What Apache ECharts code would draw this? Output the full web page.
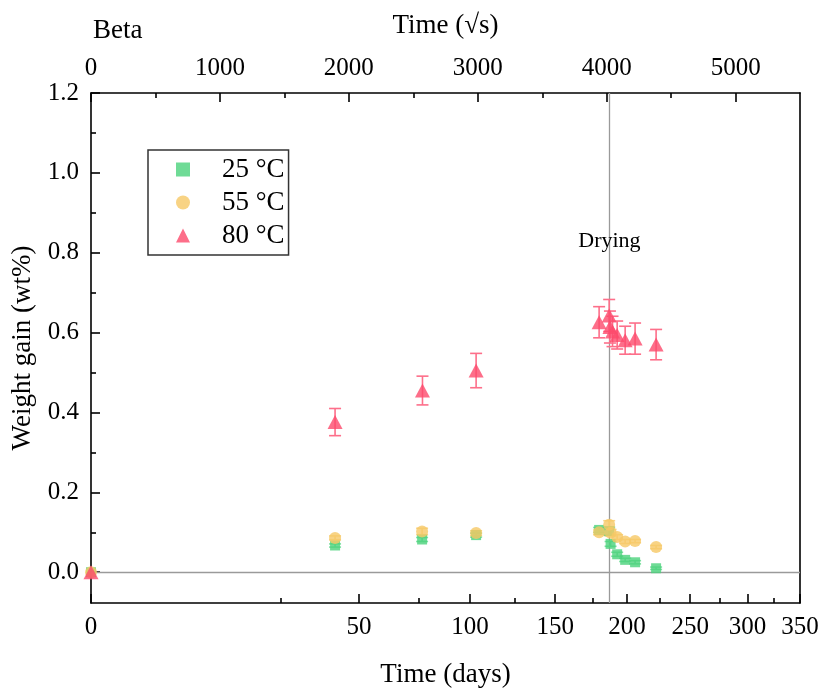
<!DOCTYPE html>
<html><head><meta charset="utf-8">
<script src="https://cdn.jsdelivr.net/npm/echarts@6/dist/echarts.min.js"></script>
<style>html,body{margin:0;padding:0;background:#fff}#c{width:822px;height:693px}</style>
</head><body><div id="c"></div>
<script>
// ---- data ----
const topTicks = [0, 1000, 2000, 3000, 4000, 5000];
const topMinorTicks = [500, 1500, 2500, 3500, 4500];
const dayTicks = [0, 50, 100, 150, 200, 250, 300, 350];
const dayMinorTicks = [25, 75, 125, 175, 225, 275, 325];
const yTicks = [0, 0.2, 0.4, 0.6, 0.8, 1.0, 1.2];
const yMinorTicks = [0.1, 0.3, 0.5, 0.7, 0.9, 1.1];
const seriesNames = ['25 °C', '55 °C', '80 °C'];

// x values in sqrt(s)
const x25 = [0, 1893, 2568, 2987, 3941, 4019, 4030, 4081, 4143, 4220, 4383];
const y25 = [0, 0.067, 0.082, 0.093, 0.106, 0.103, 0.071, 0.045, 0.031, 0.025, 0.010];
const e25 = [0, 0.004, 0.005, 0.005, 0.006, 0.010, 0.006, 0.005, 0.004, 0.004, 0.003];

const x55 = [0, 1893, 2568, 2987, 3941, 4019, 4030, 4081, 4143, 4220, 4383];
const y55 = [0, 0.086, 0.102, 0.098, 0.100, 0.119, 0.099, 0.088, 0.077, 0.078, 0.063];
const e55 = [0, 0.005, 0.008, 0.006, 0.006, 0.010, 0.008, 0.006, 0.005, 0.004, 0.004];

const x80 = [0, 1893, 2571, 2987, 3941, 4019, 4025, 4045, 4081, 4143, 4220, 4383];
const y80 = [0, 0.376, 0.455, 0.505, 0.626, 0.643, 0.614, 0.603, 0.594, 0.581, 0.585, 0.570];
const e80 = [0, 0.034, 0.036, 0.043, 0.039, 0.040, 0.040, 0.038, 0.035, 0.035, 0.039, 0.038];

const dryingX = 4021;
const dryingLabelY = 0.83;

// ---- chart ----
const FONT = "'Liberation Serif', 'Times New Roman', serif";
const colors = ['#4bd27c', '#f6c865', '#fd4a6b'];
const errColors = ['#7ee0a2', '#f8d68c', '#fd6f8a'];
const xMax = Math.sqrt(350 * 86400);
const yMin = -0.077, yMax = 1.2;
const toSqrtS = d => Math.sqrt(d * 86400);

function pairs(xs, ys) { return xs.map((x, i) => [x, ys[i]]); }
function errData(xs, ys, es) { return xs.map((x, i) => [x, ys[i] - es[i], ys[i] + es[i]]); }

function errSeries(idx, xs, ys, es) {
  return {
    type: 'custom', xAxisIndex: 0, yAxisIndex: 0, z: 2, silent: true,
    data: errData(xs, ys, es).filter(d => d[2] - d[1] > 0),
    renderItem: function (params, api) {
      const x = api.value(0);
      const lo = api.coord([x, api.value(1)]);
      const hi = api.coord([x, api.value(2)]);
      const w = 6;
      const st = { stroke: errColors[idx], lineWidth: 1.6 };
      return { type: 'group', children: [
        { type: 'line', shape: { x1: lo[0], y1: lo[1], x2: hi[0], y2: hi[1] }, style: st },
        { type: 'line', shape: { x1: lo[0] - w, y1: lo[1], x2: lo[0] + w, y2: lo[1] }, style: st },
        { type: 'line', shape: { x1: hi[0] - w, y1: hi[1], x2: hi[0] + w, y2: hi[1] }, style: st }
      ]};
    }
  };
}

const axisLineStyle = { color: '#000', width: 1.6 };
const labelStyle = { color: '#000', fontFamily: FONT, fontSize: 25 };
const nameStyle = { fontFamily: FONT, fontSize: 27, color: '#000' };

const option = {
  animation: false,
  backgroundColor: '#fff',
  textStyle: { fontFamily: FONT },
  grid: { left: 91, right: 22, top: 93, bottom: 84, containLabel: false },
  legend: {
    orient: 'vertical', left: 148, top: 150,
    data: seriesNames,
    borderColor: '#333', borderWidth: 1.5, borderRadius: 0,
    padding: [6, 4, 6, 28], itemGap: 6,
    itemWidth: 14, itemHeight: 14,
    textStyle: { fontFamily: FONT, fontSize: 27, color: '#000', padding: [0, 0, 0, 27] }
  },
  graphic: [
    { type: 'text', left: 93, top: 17, style: { text: 'Beta', font: '27px ' + FONT, fill: '#000' } }
  ],
  xAxis: [
    { type: 'value', position: 'top', min: 0, max: xMax,
      name: 'Time (√s)', nameLocation: 'middle', nameGap: 54, nameTextStyle: nameStyle,
      axisLine: { show: true, onZero: false, lineStyle: axisLineStyle },
      axisTick: { show: true, inside: true, length: 9, customValues: topTicks, lineStyle: axisLineStyle },
      axisLabel: Object.assign({ customValues: topTicks, margin: 12, formatter: v => String(v) }, labelStyle),
      splitLine: { show: false } },
    { type: 'value', position: 'top', min: 0, max: xMax,
      axisLine: { show: false, onZero: false },
      axisTick: { show: true, inside: true, length: 5, customValues: topMinorTicks, lineStyle: axisLineStyle },
      axisLabel: { show: false }, splitLine: { show: false } },
    { type: 'value', position: 'bottom', min: 0, max: xMax,
      name: 'Time (days)', nameLocation: 'middle', nameGap: 58, nameTextStyle: nameStyle,
      axisLine: { show: true, onZero: false, lineStyle: axisLineStyle },
      axisTick: { show: true, inside: true, length: 9, customValues: dayTicks.map(toSqrtS), lineStyle: axisLineStyle },
      axisLabel: Object.assign({ customValues: dayTicks.map(toSqrtS), margin: 12,
        formatter: v => String(Math.round(v * v / 86400)) }, labelStyle),
      splitLine: { show: false } },
    { type: 'value', position: 'bottom', min: 0, max: xMax,
      axisLine: { show: false, onZero: false },
      axisTick: { show: true, inside: true, length: 5, customValues: dayMinorTicks.map(toSqrtS), lineStyle: axisLineStyle },
      axisLabel: { show: false }, splitLine: { show: false } }
  ],
  yAxis: [
    { type: 'value', position: 'left', min: yMin, max: yMax,
      name: 'Weight gain (wt%)', nameLocation: 'middle', nameGap: 50, nameTextStyle: nameStyle,
      axisLine: { show: true, onZero: false, lineStyle: axisLineStyle },
      axisTick: { show: true, inside: true, length: 9, customValues: yTicks, lineStyle: axisLineStyle },
      axisLabel: Object.assign({ customValues: yTicks, margin: 12, formatter: v => v.toFixed(1) }, labelStyle),
      splitLine: { show: false } },
    { type: 'value', position: 'left', min: yMin, max: yMax,
      axisLine: { show: false, onZero: false },
      axisTick: { show: true, inside: true, length: 5, customValues: yMinorTicks, lineStyle: axisLineStyle },
      axisLabel: { show: false }, splitLine: { show: false } },
    { type: 'value', position: 'right', min: yMin, max: yMax,
      axisLine: { show: true, onZero: false, lineStyle: axisLineStyle },
      axisTick: { show: false }, axisLabel: { show: false }, splitLine: { show: false } }
  ],
  series: [
    errSeries(0, x25, y25, e25),
    errSeries(1, x55, y55, e55),
    errSeries(2, x80, y80, e80),
    { name: seriesNames[0], type: 'scatter', xAxisIndex: 0, yAxisIndex: 0, z: 3,
      symbol: 'rect', symbolSize: 10, itemStyle: { color: colors[0] }, data: pairs(x25, y25),
      markLine: { silent: true, symbol: 'none', label: { show: false }, z: 1,
        lineStyle: { color: '#9a9a9a', width: 1.3, type: 'solid' },
        data: [{ yAxis: 0 }, { xAxis: dryingX }] },
      markPoint: { silent: true, symbol: 'circle', symbolSize: 1,
        itemStyle: { color: 'rgba(0,0,0,0)' },
        data: [{ coord: [dryingX, dryingLabelY], name: 'Drying' }],
        label: { show: true, position: 'inside', formatter: 'Drying', fontFamily: FONT, fontSize: 22, color: '#000' } } },
    { name: seriesNames[1], type: 'scatter', xAxisIndex: 0, yAxisIndex: 0, z: 3,
      symbol: 'circle', symbolSize: 12, itemStyle: { color: colors[1] }, data: pairs(x55, y55) },
    { name: seriesNames[2], type: 'scatter', xAxisIndex: 0, yAxisIndex: 0, z: 3,
      symbol: 'triangle', symbolSize: [15, 14], itemStyle: { color: colors[2] }, data: pairs(x80, y80) }
  ]
};

const chart = echarts.init(document.getElementById('c'), null, { renderer: 'canvas' });
chart.setOption(option);
</script>
</body></html>
